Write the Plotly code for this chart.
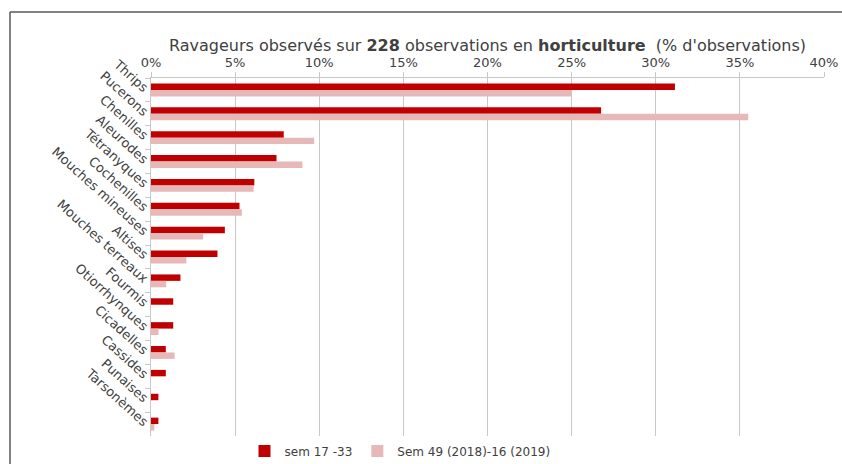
import plotly.graph_objects as go

categories = ["Thrips", "Pucerons", "Chenilles", "Aleurodes", "Tétranyques", "Cochenilles",
              "Mouches mineuses", "Altises", "Mouches terreaux", "Fourmis", "Otiorrhynques",
              "Cicadelles", "Cassides", "Punaises", "Tarsonèmes"]
sem_17_33 = [31.14, 26.75, 7.89, 7.46, 6.14, 5.26, 4.39, 3.95, 1.75, 1.32, 1.32, 0.88, 0.88, 0.44, 0.44]
sem_49_16 = [25.0, 35.5, 9.7, 9.0, 6.1, 5.4, 3.1, 2.1, 0.9, 0.0, 0.45, 1.4, 0.0, 0.0, 0.2]
series_names = ["sem 17 -33", "Sem 49 (2018)-16 (2019)"]
x_ticks = [0, 5, 10, 15, 20, 25, 30, 35, 40]
x_tick_labels = [f"{v}%" for v in x_ticks]

W, H = 842, 464
L, R, T, B = 151, 842 - 824, 78, 464 - 436
pw, ph = W - L - R, H - T - B

fig = go.Figure()
fig.add_trace(go.Bar(y=categories, x=sem_17_33, orientation="h", name=series_names[0],
                     marker=dict(color="#C00000", line=dict(width=0))))
fig.add_trace(go.Bar(y=categories, x=sem_49_16, orientation="h", name=series_names[1],
                     marker=dict(color="#E6B9B8", line=dict(width=0))))

def px_x(x):  # page pixel -> paper
    return (x - L) / pw

def px_y(y):
    return (H - B - y) / ph

fig.update_layout(
    width=W, height=H,
    margin=dict(l=L, r=R, t=T, b=B, autoexpand=False),
    paper_bgcolor="white", plot_bgcolor="white",
    barmode="group", bargap=0.46, bargroupgap=0,
    font=dict(family="DejaVu Sans", color="#404040"),
    title=dict(text="Ravageurs observés sur <b>228</b> observations en <b>horticulture</b>  (% d'observations)",
               x=0.5, xref="paper", xanchor="center",
               y=1 - 45 / H, yref="container", yanchor="middle",
               font=dict(size=16, color="#404040")),
    xaxis=dict(side="top", range=[0, 40], tickvals=x_ticks, ticktext=x_tick_labels,
               showgrid=True, gridcolor="#C8C8C8", gridwidth=1,
               showline=True, linecolor="#C8C8C8", linewidth=1,
               ticks="outside", ticklen=5, tickcolor="#C8C8C8", automargin=False,
               tickfont=dict(size=13, color="#404040"), zeroline=False, fixedrange=True),
    yaxis=dict(type="category", autorange="reversed", tickangle=42, automargin=False,
               showline=True, linecolor="#C8C8C8", linewidth=1,
               ticks="outside", ticklen=5, tickcolor="#C8C8C8", tickson="boundaries",
               showgrid=False, tickfont=dict(size=13, color="#404040"), fixedrange=True),
    legend=dict(orientation="h", x=px_x(400), xanchor="center", y=px_y(451), yanchor="middle",
                font=dict(size=12, color="#404040"), itemwidth=30, bgcolor="rgba(0,0,0,0)"),
    shapes=[
        dict(type="line", xref="paper", yref="paper", x0=px_x(10), x1=px_x(842),
             y0=px_y(12), y1=px_y(12), line=dict(color="#595959", width=1.5)),
        dict(type="line", xref="paper", yref="paper", x0=px_x(10), x1=px_x(10),
             y0=px_y(12), y1=px_y(464), line=dict(color="#595959", width=1.5)),
    ],
)

fig.write_html("out.html", config={"displayModeBar": False},
               post_script="document.body.style.margin='0';document.body.style.overflow='hidden';")
